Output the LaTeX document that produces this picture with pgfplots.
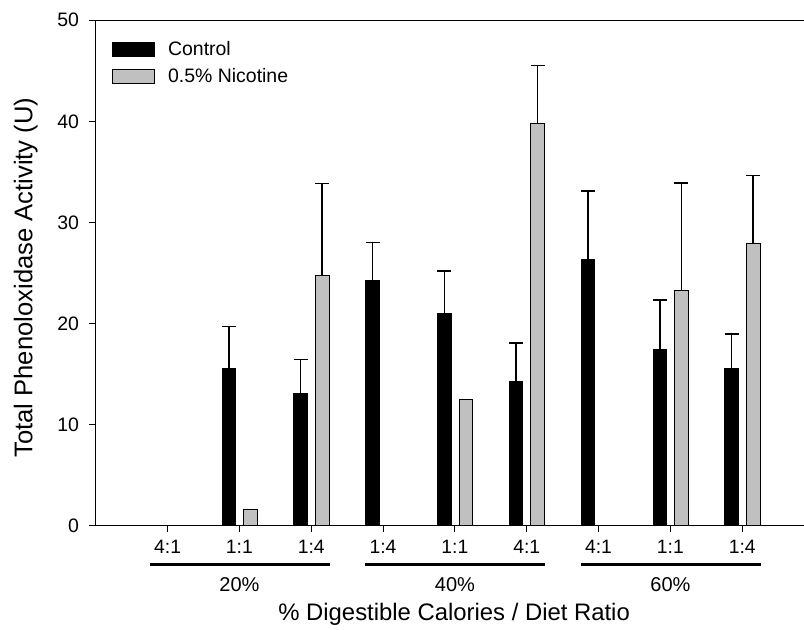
\documentclass[border=0pt]{standalone}
\usepackage{fontspec}
\setmainfont{Liberation Sans}
\usepackage{pgfplots}
\pgfplotsset{compat=1.18}
\definecolor{nicgray}{RGB}{192,192,192}
\begin{document}
\begin{tikzpicture}
\path[use as bounding box] (-71.8pt,-78.2pt) rectangle (531.2pt,394.3pt);
\begin{axis}[
  at={(0,0)}, anchor=south west,
  scale only axis, width=531.2pt, height=379.1pt,
  xmin=-1, xmax=8.86, ymin=0, ymax=50,
  axis lines=left, axis line style={line width=1pt, -},
  clip=false,
  ytick={0,10,...,50}, xtick={0,...,8},
  xticklabels={4:1,1:1,1:4,1:4,1:1,4:1,4:1,1:1,1:4},
  tick style={black, line width=0.8pt}, tick align=outside,
  major tick length=5pt,
  /pgf/number format/assume math mode=true,
  yticklabel style={font=\fontsize{14.6}{17}\selectfont, xshift=-4pt},
  xticklabel style={font=\fontsize{14.5}{17}\selectfont, yshift=-2.5pt},
  ylabel={Total Phenoloxidase Activity (U)},
  ylabel style={font=\fontsize{19.2}{22}\selectfont, at={(axis description cs:-0.0988,0.491)}, anchor=center},
  xlabel={\% Digestible Calories / Diet Ratio},
  xlabel style={font=\fontsize{17.9}{21}\selectfont, at={(axis description cs:0.506,-0.176)}, anchor=center},
  legend style={at={(axis description cs:0,1)}, anchor=north west, xshift=11.8pt, yshift=-14pt,
    draw=none, fill=none, inner sep=0pt, font=\fontsize{14.6}{17}\selectfont, row sep=3.5pt},
  legend cell align=left,
]
\addplot[ybar, bar width=0.19, bar shift=0pt, fill=black, draw=black, line width=0.75pt,
  legend image code/.code={\draw[fill=black, draw=black, line width=0.75pt] (0pt,-5.25pt) rectangle (32pt,5.25pt); \path (39.5pt,0pt);},
  error bars/.cd, y dir=plus, y explicit,
  error bar style={line width=1.1pt, black},
  error mark options={rotate=90, mark size=5.25pt, line width=1.1pt, black}]
  table[x expr=\thisrow{x}-0.147, y=y, y error=e] {
x y e
1 15.57 4.13
2 13.10 3.35
3 24.23 3.80
4 21.04 4.15
5 14.24 3.83
6 26.35 6.75
7 17.41 4.94
8 15.53 3.43
};
\addlegendentry{Control}
\addplot[ybar, bar width=0.19, bar shift=0pt, fill=nicgray, draw=black, line width=0.75pt,
  legend image code/.code={\draw[fill=nicgray, draw=black, line width=0.75pt] (0pt,-5.25pt) rectangle (32pt,5.25pt); \path (39.5pt,0pt);},
  error bars/.cd, y dir=plus, y explicit,
  error bar style={line width=1.1pt, black},
  error mark options={rotate=90, mark size=5.25pt, line width=1.1pt, black}]
  table[x expr=\thisrow{x}+0.153, y=y, y error=e] {
x y e
1 1.58 0
2 24.73 9.10
4 12.46 0
5 39.80 5.70
7 23.28 10.62
8 27.90 6.76
};
\addlegendentry{0.5\% Nicotine}
\draw[line width=1pt] (rel axis cs:0,1) -- (rel axis cs:1,1);
\draw[line width=2.25pt] ([yshift=-29.25pt]axis cs:-0.246,0) -- ([yshift=-29.25pt]axis cs:2.26,0);
\draw[line width=2.25pt] ([yshift=-29.25pt]axis cs:2.754,0) -- ([yshift=-29.25pt]axis cs:5.26,0);
\draw[line width=2.25pt] ([yshift=-29.25pt]axis cs:5.754,0) -- ([yshift=-29.25pt]axis cs:8.26,0);
\node[font=\fontsize{15}{17}\selectfont, anchor=center] at ([yshift=-44.5pt]axis cs:1,0) {20\%};
\node[font=\fontsize{15}{17}\selectfont, anchor=center] at ([yshift=-44.5pt]axis cs:4,0) {40\%};
\node[font=\fontsize{15}{17}\selectfont, anchor=center] at ([yshift=-44.5pt]axis cs:7,0) {60\%};
\end{axis}
\end{tikzpicture}
\end{document}
